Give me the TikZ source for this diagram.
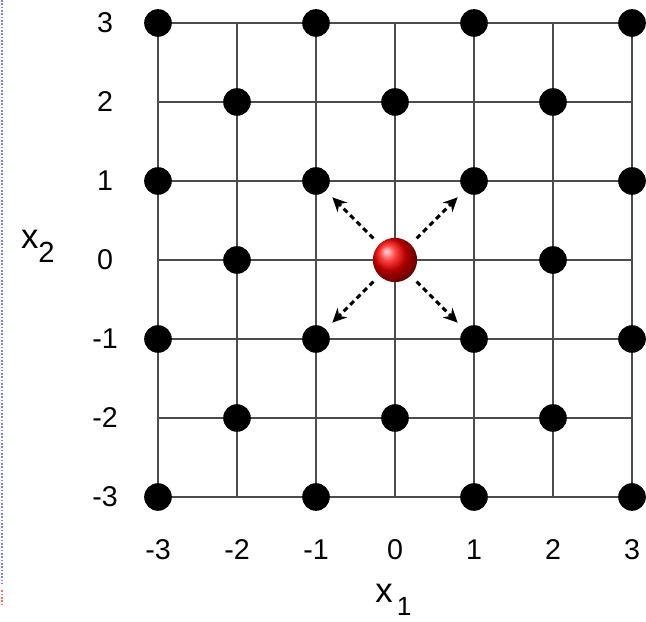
\documentclass[tikz,border=0pt]{standalone}
\usepackage{fontspec}
\setmainfont{Liberation Sans}
\usetikzlibrary{arrows.meta}

\begin{document}
\begin{tikzpicture}[
  font=\fontsize{10.3}{12}\selectfont,
  gridln/.style={draw=black!70, line width=0.75pt},
  pt/.style={circle, fill=black, inner sep=0pt, minimum size=0.35cm},
  ball/.style={circle, ball color=red, inner sep=0pt, minimum size=0.56cm},
  mv/.style={-{Stealth[length=1.8mm, width=1.7mm]}, line width=1.05pt,
             dash pattern=on 1.9pt off 1.4pt, shorten <=0.1cm, shorten >=0.11cm},
  tick/.style={inner sep=0pt},
  axlab/.style={font=\fontsize{12.5}{14}\selectfont, inner sep=0pt}
]
\useasboundingbox (-5,-4.582) rectangle (3.177,3.291);
\draw[blue!50!white, line width=1pt, dash pattern=on 0.6pt off 0.6pt] (-4.975,3.291) -- (-4.975,-4.1);
\draw[red!60!white, line width=1pt, dash pattern=on 0.6pt off 0.6pt] (-4.975,-4.18) -- (-4.975,-4.38);

\draw[gridln] (-3,-3) grid (3,3);

\foreach \i in {0,...,6}
  \foreach \j in {0,...,6} {
    \pgfmathtruncatemacro{\keep}{(mod(\i+\j,2)==0) && !(\i==3 && \j==3)}
    \ifnum\keep=1 \node[pt] (p\i\j) at (\i-3,\j-3) {}; \fi
  }
\node[ball] (ctr) at (0,0) {};

\foreach \t in {p22,p42,p24,p44}
  \draw[mv] (ctr) -- (\t);

\foreach \v in {-3,...,3} {
  \node[tick] (xl\v) at (\v,-3.67) {\v};
  \node[tick] (yl\v) at (-3.67,\v) {\v};
}
\node[axlab] (xa) at (-0.02,-4.3) {x\kern1.5pt\raisebox{-4.7pt}{\fontsize{9.5}{10}\selectfont 1}};
\node[axlab] (ya) at (-4.52,0.17) {x\raisebox{-5pt}{\fontsize{10.5}{11}\selectfont 2}};
\end{tikzpicture}
\end{document}
